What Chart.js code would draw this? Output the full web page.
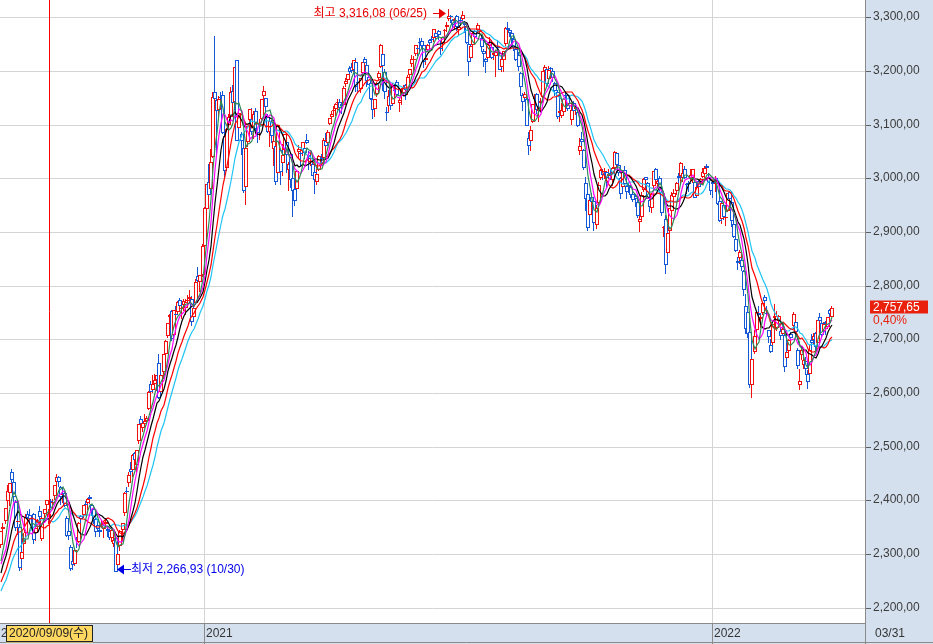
<!DOCTYPE html>
<html>
<head>
<meta charset="utf-8">
<script src="https://cdn.jsdelivr.net/npm/chart.js@4.4.1/dist/chart.umd.min.js"></script>
<style>
  html, body { margin: 0; padding: 0; background: #fff; }
  #wrap { width: 933px; height: 644px; position: relative; }
</style>
</head>
<body>
<div id="wrap"><canvas id="kospi"></canvas></div>
<script>
// closes before the first visible day (2020-07-09 .. 2020-08-05), only used for the averages
const earlierCloses = [2167.9, 2150.25, 2186.06, 2183.61, 2201.19, 2183.76, 2201.19, 2198.2, 2228.66, 2228.08,
  2216.18, 2200.44, 2217.86, 2256.99, 2263.17, 2267.01, 2249.37, 2251.04, 2279.97, 2311.86];

// daily [open, high, low, close], 2020-08-06 .. 2020-12-30
const ohlc2020 = [
  // Aug
  [2317,2343,2312,2342],[2346,2358,2333,2351],[2361,2386,2356,2386],[2398,2429,2380,2418],[2413,2433,2389,2432],
  [2453,2458,2424,2437],[2435,2446,2397,2407],[2397,2400,2343,2348],[2359,2375,2336,2360],[2351,2356,2268,2274],
  [2290,2314,2271,2304],[2318,2339,2302,2329],[2339,2375,2331,2369],[2375,2380,2352,2368],[2373,2383,2358,2366],
  [2356,2370,2347,2353],[2375,2376,2319,2326],
  // Sep
  [2339,2349,2325,2349],[2351,2366,2340,2364],[2380,2389,2361,2369],[2328,2371,2324,2368],[2374,2384,2363,2384],
  [2392,2401,2383,2401],[2366,2384,2356,2375],[2398,2403,2386,2396],[2395,2403,2382,2397],[2409,2429,2401,2428],
  [2435,2449,2428,2443],[2443,2445,2425,2435],[2424,2427,2391,2406],[2410,2419,2395,2412],[2414,2417,2387,2389],
  [2368,2371,2331,2333],[2342,2355,2326,2334],[2313,2317,2268,2272],[2287,2295,2270,2279],[2281,2308,2277,2308],
  [2329,2331,2312,2327],
  // Oct
  [2323,2359,2320,2358],[2370,2372,2354,2365],[2372,2392,2368,2391],[2393,2399,2380,2391],[2396,2405,2382,2403],
  [2406,2410,2393,2403],[2392,2394,2370,2380],[2383,2385,2356,2361],[2366,2367,2331,2341],[2355,2364,2341,2346],
  [2345,2355,2332,2341],[2355,2363,2350,2358],[2347,2358,2330,2355],[2356,2366,2350,2360],[2346,2352,2331,2343],
  [2343,2346,2327,2330],[2329,2348,2322,2345],[2318,2338,2313,2326],[2329,2334,2266.93,2267.15],
  // Nov
  [2280,2306,2273,2300],[2315,2345,2306,2343],[2345,2358,2325,2357],[2376,2416,2370,2414],[2418,2425,2405,2416],
  [2432,2452,2425,2447],[2458,2472,2444,2452],[2456,2486,2443,2485],[2488,2490,2468,2475],[2466,2494,2452,2493],
  [2510,2543,2505,2543],[2551,2557,2532,2543],[2534,2551,2527,2545],[2543,2560,2538,2547],[2548,2558,2545,2553],
  [2571,2603,2569,2602],[2617,2622,2588,2601],[2606,2633,2600,2617],[2617,2635,2609,2625],[2624,2634,2603,2633],
  [2655,2672,2588,2591],
  // Dec
  [2602,2637,2600,2634],[2640,2673,2626,2672],[2673,2699,2671,2696],[2707,2731,2703,2731],[2742,2747,2729,2745],
  [2752,2754,2697,2700],[2708,2755,2702,2755],[2747,2762,2731,2746],[2751,2771,2746,2770],[2773,2777,2756,2762],
  [2756,2763,2737,2757],[2764,2776,2753,2771],[2758,2775,2746,2770],[2772,2783,2765,2773],[2776,2791,2766,2778],
  [2775,2780,2724,2733],[2742,2763,2735,2759],[2767,2812,2765,2806],[2818,2834,2794,2808],[2806,2820,2788,2820],
  [2820,2878,2816,2873]
];

// 2021-01-04 .. 2021-12-30
const ohlc2021 = [
  // Jan
  [2874,2946,2869,2944],[2943,2990,2921,2990],[2993,3027,2961,2968],[2980,3055,2978,3031],[3040,3161,3038,3152],
  [3161,3266,3096,3148],[3146,3150,3043,3125],[3128,3153,3115,3148],[3150,3160,3130,3149],[3156,3162,3083,3085],
  [3079,3087,3002,3013],[3019,3093,3016,3092],[3100,3120,3073,3114],[3115,3170,3103,3160],[3163,3174,3125,3140],
  [3142,3208,3128,3208],[3220,3221,3069,3070],[3093,3133,3083,3122],[3083,3087,3044,3069],[3057,3080,2972,2976],
  // Feb
  [2984,3063,2950,3056],[3068,3098,3059,3097],[3109,3130,3097,3129],[3111,3131,3080,3087],[3094,3125,3073,3120],
  [3126,3131,3088,3092],[3103,3113,3066,3084],[3098,3110,3072,3100],[3110,3148,3103,3147],[3153,3172,3142,3163],
  [3149,3150,3122,3133],[3114,3119,3084,3086],[3087,3112,3058,3107],[3105,3109,3066,3079],[3054,3080,3023,3070],
  [3061,3075,2988,2994],[3009,3099,3005,3099],[3053,3055,2988,3012],
  // Mar
  [3029,3063,3005,3043],[3052,3083,3044,3082],[3068,3070,3009,3043],[3015,3031,2977,3026],[3046,3048,2982,2996],
  [3001,3009,2928,2976],[2980,2984,2948,2958],[2980,3013,2973,3013],[3049,3062,3036,3054],[3048,3053,3022,3045],
  [3050,3067,3041,3067],[3057,3064,3036,3047],[3072,3082,3063,3066],[3044,3050,3016,3039],[3036,3049,3023,3036],
  [3027,3040,3004,3005],[3011,3018,2970,2996],[2994,3018,2987,3008],[3015,3043,3014,3041],[3040,3046,3027,3036],
  [3038,3075,3035,3071],[3070,3084,3056,3061],
  // Apr
  [3065,3090,3062,3087],[3102,3112,3099,3112],[3115,3125,3105,3120],[3126,3134,3119,3127],[3129,3140,3117,3138],
  [3141,3148,3128,3143],[3142,3147,3122,3131],[3139,3143,3120,3135],[3136,3172,3134,3169],[3176,3187,3170,3182],
  [3183,3194,3180,3194],[3206,3210,3192,3198],[3207,3215,3196,3199],[3202,3221,3198,3221],[3217,3225,3161,3171],
  [3178,3180,3160,3177],[3167,3187,3159,3186],[3197,3217,3183,3217],[3223,3226,3200,3215],[3211,3218,3171,3181],
  [3189,3200,3173,3174],[3178,3184,3145,3147],
  // May
  [3147,3151,3110,3127],[3130,3148,3115,3147],[3158,3180,3151,3178],[3186,3199,3184,3197],[3207,3250,3205,3249],
  [3231,3232,3163,3209],[3198,3203,3148,3161],[3123,3133,3107,3122],[3135,3165,3123,3153],[3169,3173,3128,3134],
  [3139,3177,3138,3173],[3163,3172,3141,3162],[3179,3184,3153,3156],[3140,3150,3124,3145],[3154,3168,3137,3162],
  [3159,3173,3155,3171],[3173,3175,3145,3165],[3167,3193,3155,3188],[3193,3204,3184,3204],
  // Jun
  [3213,3229,3208,3222],[3220,3228,3200,3223],[3232,3249,3227,3248],[3243,3248,3227,3241],[3253,3262,3232,3252],
  [3256,3262,3241,3247],[3249,3254,3206,3216],[3220,3235,3211,3224],[3239,3251,3236,3249],[3258,3259,3241,3252],
  [3259,3266,3255,3258],[3261,3278,3254,3278],[3270,3277,3257,3264],[3275,3277,3257,3267],[3243,3255,3230,3240],
  [3252,3264,3237,3264],[3274,3278,3261,3276],[3282,3291,3273,3286],[3296,3316.08,3294,3302],[3302,3304,3290,3301],
  [3295,3296,3280,3286],[3294,3298,3279,3297],
  // Jul
  [3303,3305,3275,3282],[3277,3287,3265,3281],[3294,3301,3283,3293],[3297,3312,3294,3305],[3290,3293,3270,3285],
  [3283,3285,3250,3253],[3250,3252,3190,3217],[3225,3247,3222,3246],[3249,3272,3240,3271],[3274,3276,3260,3264],
  [3276,3289,3270,3286],[3272,3280,3268,3276],[3262,3265,3235,3244],[3238,3240,3208,3232],[3223,3224,3196,3216],
  [3224,3250,3221,3250],[3246,3263,3239,3254],[3244,3257,3223,3224],[3230,3242,3220,3233],[3228,3239,3188,3236],
  [3245,3257,3237,3242],[3233,3236,3202,3202],
  // Aug
  [3207,3227,3198,3223],[3221,3237,3198,3237],[3250,3281,3247,3280],[3280,3291,3266,3276],[3276,3280,3264,3270],
  [3271,3272,3247,3260],[3260,3263,3237,3243],[3240,3243,3218,3221],[3229,3235,3199,3208],[3197,3198,3154,3171],
  [3155,3159,3126,3143],[3150,3161,3142,3158],[3148,3151,3097,3097],[3075,3087,3043,3060],[3070,3097,3051,3090],
  [3104,3138,3103,3138],[3147,3158,3134,3148],[3157,3159,3120,3128],[3125,3134,3104,3133],[3141,3150,3128,3144],
  [3152,3199,3143,3199],
  // Sep
  [3199,3211,3186,3207],[3204,3207,3172,3175],[3185,3209,3182,3201],[3206,3208,3185,3203],[3200,3203,3179,3187],
  [3177,3179,3154,3162],[3160,3165,3111,3114],[3121,3137,3104,3125],[3116,3141,3112,3127],[3123,3150,3121,3148],
  [3156,3159,3143,3153],[3155,3157,3125,3130],[3135,3145,3130,3140],[3108,3140,3100,3127],[3140,3144,3120,3125],
  [3129,3135,3118,3133],[3123,3129,3095,3097],[3050,3076,3044,3060],[3073,3086,3060,3068],
  // Oct
  [3053,3054,3016,3019],[2992,3003,2940,2962],[2971,2986,2901,2908],[2932,2962,2927,2959],[2966,2973,2953,2956],
  [2957,2961,2901,2916],[2913,2950,2905,2944],[2954,2993,2952,2988],[3000,3018,2996,3015],[3013,3017,2997,3006],
  [3011,3019,2998,3013],[3011,3013,2982,3000],[3004,3018,2998,3008],[3010,3018,2997,3006],[2996,3021,2986,3020],
  [3020,3051,3016,3049],[3048,3049,3021,3025],[3024,3027,3004,3009],[3001,3003,2961,2970],
  // Nov
  [2984,3013,2980,3013],[3016,3022,2986,2989],[2986,2988,2961,2975],[2987,2992,2972,2983],[2983,2987,2963,2969],
  [2970,2978,2955,2960],[2967,2968,2947,2962],[2955,2964,2926,2930],[2918,2931,2900,2924],[2928,2974,2925,2968],
  [2978,3000,2975,2999],[3002,3003,2984,2997],[2992,2993,2961,2962],[2960,2963,2938,2947],[2944,2973,2936,2971],
  [2985,3014,2979,3013],[3017,3020,2985,2997],[2990,3003,2983,2995],[3000,3005,2973,2980],[2975,2978,2930,2936],
  [2907,2912,2890,2909],[2925,2931,2821,2839],
  // Dec
  [2860,2904,2839,2899],[2902,2945,2890,2945],[2940,2974,2935,2968],[2966,2981,2960,2973],[2976,2994,2968,2991],
  [3004,3009,2989,3001],[3005,3030,2990,3029],[3000,3012,2993,3010],[3017,3023,2999,3001],[2990,2991,2970,2987],
  [2992,2995,2975,2989],[2999,3018,2995,3006],[3001,3017,2992,3017],[2993,2994,2963,2963],[2967,2987,2965,2984],
  [2995,2998,2983,2984],[2990,3000,2984,2998],[3002,3020,3000,3012],[3008,3022,3001,3020],[3023,3027,3010,3020],
  [3003,3010,2991,2993],[2996,3002,2968,2977]
];

// 2022-01-03 .. 2022-03-31
const ohlc2022 = [
  // Jan
  [2993,2995,2963,2989],[2989,3005,2974,2990],[2991,3001,2950,2953],[2957,2963,2919,2920],[2925,2955,2915,2954],
  [2951,2955,2923,2927],[2926,2934,2911,2928],[2939,2973,2938,2972],[2974,2976,2955,2962],[2956,2962,2910,2921],
  [2915,2920,2889,2890],[2886,2897,2862,2864],[2846,2853,2830,2842],[2852,2867,2840,2862],[2847,2856,2828,2834],
  [2828,2830,2780,2792],[2762,2785,2710,2720],[2750,2752,2703,2709],[2713,2716,2610,2614],[2614,2677,2591.53,2663],
  // Feb
  [2677,2717,2672,2707],[2717,2752,2705,2750],[2749,2762,2735,2745],[2737,2745,2721,2741],[2749,2768,2745,2768],
  [2779,2782,2759,2771],[2748,2763,2741,2747],[2717,2718,2694,2704],[2690,2700,2675,2676],[2693,2729,2690,2729],
  [2740,2766,2727,2744],[2721,2753,2716,2744],[2734,2746,2731,2743],[2716,2722,2698,2706],[2710,2728,2708,2719],
  [2708,2710,2639,2648],[2665,2688,2658,2676],[2678,2700,2676,2699],
  // Mar
  [2710,2713,2686,2703],[2725,2750,2720,2747],[2733,2741,2706,2713],[2680,2683,2645,2651],[2615,2645,2605,2622],
  [2670,2685,2661,2680],[2652,2668,2645,2661],[2660,2667,2633,2645],[2636,2642,2608,2621],[2636,2689,2635,2680],
  [2699,2709,2681,2694],[2699,2711,2691,2707],[2711,2713,2674,2686],[2694,2736,2690,2736],[2742,2749,2732,2735],
  [2731,2734,2705,2708],[2716,2733,2710,2729],[2732,2734,2708,2729],[2723,2742,2720,2741],[2755,2757,2740,2746.74],
  [2742,2763,2741,2757.65]
];

const maPeriods = [5, 7, 10, 15, 20];
const maColors = ['#2e8b57', '#ff00ff', '#000000', '#ff0000', '#1ec4f4'];
const yTicks = [2200, 2300, 2400, 2500, 2600, 2700, 2800, 2900, 3000, 3100, 3200, 3300];
const yearStarts = [{ idx: 99, label: '2021' }, { idx: 347, label: '2022' }];
const firstLabel = '2020';
const crossIdx = 23;
const crossLabel = '2020/09/09(수)';
const highDate = '06/25';
const lowDate = '10/30';
const lastDate = '03/31';

const candles = ohlc2020.concat(ohlc2021, ohlc2022);
const closes = candles.map(d => d[3]);

const upColor = '#f01010';
const downColor = '#1458d6';
const FONT = "'Liberation Sans', 'Noto Sans CJK KR', Arial, sans-serif";

function movingAverage(period) {
  const all = earlierCloses.concat(closes);
  const off = earlierCloses.length;
  return closes.map((c, i) => {
    const end = off + i;
    let s = 0;
    for (let k = end - period + 1; k <= end; k++) s += all[k];
    return { x: i, y: s / period };
  });
}

function fmtKr(v) {
  const parts = v.toFixed(2).split('.');
  return parts[0].replace(/\B(?=(\d{3})+(?!\d))/g, ',') + ',' + parts[1];
}

let hiIdx = 0, loIdx = 0;
candles.forEach((d, i) => {
  if (d[1] > candles[hiIdx][1]) hiIdx = i;
  if (d[2] < candles[loIdx][2]) loIdx = i;
});

const wickData = candles.map((d, i) => ({ x: i, y: [d[2], d[1]] }));
const bodyData = candles.map((d, i) => ({ x: i, y: [Math.min(d[0], d[3]), Math.max(d[0], d[3])] }));
const candleColors = candles.map(d => d[3] >= d[0] ? upColor : downColor);

const datasets = maPeriods.map((p, k) => ({
  type: 'line',
  label: 'MA' + p,
  data: movingAverage(p),
  borderColor: maColors[k],
  borderWidth: 1.2,
  pointRadius: 0,
  tension: 0,
  order: k
}));
// hollow candle bodies
datasets.push({
  type: 'bar',
  label: 'body',
  data: bodyData,
  backgroundColor: '#ffffff',
  borderColor: candleColors,
  borderWidth: 1,
  borderSkipped: false,
  barThickness: 4,
  minBarLength: 1,
  grouped: false,
  inflateAmount: 0,
  order: 10
});
// wicks: a 2px bar showing only its 1px left border, so the line stays sharp
datasets.push({
  type: 'bar',
  label: 'wick',
  data: wickData,
  backgroundColor: 'rgba(0,0,0,0)',
  borderColor: candleColors,
  borderWidth: { left: 1, right: 0, top: 0, bottom: 0 },
  borderSkipped: false,
  barThickness: 2,
  grouped: false,
  inflateAmount: 0,
  order: 11
});

function drawArrow(ctx, x1, tip, y, color) {
  const dir = Math.sign(tip - x1);
  ctx.strokeStyle = color;
  ctx.fillStyle = color;
  ctx.lineWidth = 1;
  ctx.beginPath();
  ctx.moveTo(x1, y + 0.5);
  ctx.lineTo(tip - dir * 5, y + 0.5);
  ctx.stroke();
  ctx.beginPath();
  ctx.moveTo(tip, y + 0.5);
  ctx.lineTo(tip - dir * 7, y - 4.5);
  ctx.lineTo(tip - dir * 7, y + 5.5);
  ctx.closePath();
  ctx.fill();
}

const decor = {
  id: 'decor',
  beforeDraw(chart) {
    const { ctx, chartArea: a, width, height } = chart;
    ctx.save();
    ctx.fillStyle = '#ffffff';
    ctx.fillRect(0, 0, width, height);
    ctx.fillStyle = '#d5e0ee';
    ctx.fillRect(a.right, 0, width - a.right, height);
    ctx.fillRect(0, a.bottom, width, height - a.bottom);
    ctx.restore();
  },
  afterDatasetsDraw(chart) {
    const { ctx, chartArea: a } = chart;
    const xs = chart.scales.x, ys = chart.scales.y;
    ctx.save();
    // crosshair
    const cx = Math.round(xs.getPixelForValue(crossIdx)) + 0.5;
    ctx.strokeStyle = '#ff0000';
    ctx.lineWidth = 1;
    ctx.beginPath();
    ctx.moveTo(cx, a.top);
    ctx.lineTo(cx, a.bottom);
    ctx.stroke();

    ctx.font = '12px ' + FONT;
    ctx.textBaseline = 'middle';
    // highest
    const hi = candles[hiIdx][1];
    const hTip = xs.getPixelForValue(hiIdx) - 3;
    const hy = Math.round(ys.getPixelForValue(hi) + 3.5);
    drawArrow(ctx, hTip - 13, hTip, hy, '#e80000');
    ctx.fillStyle = '#e80000';
    ctx.textAlign = 'right';
    ctx.fillText('최고 ' + fmtKr(hi) + ' (' + highDate + ')', hTip - 19, hy + 1);
    // lowest
    const lo = candles[loIdx][2];
    const lTip = xs.getPixelForValue(loIdx) + 1;
    const ly = Math.round(ys.getPixelForValue(lo) - 3.5);
    drawArrow(ctx, lTip + 14, lTip, ly, '#0000e8');
    ctx.fillStyle = '#0000e8';
    ctx.textAlign = 'left';
    ctx.fillText('최저 ' + fmtKr(lo) + ' (' + lowDate + ')', lTip + 14, ly + 1);
    ctx.restore();
  },
  afterDraw(chart) {
    const { ctx, chartArea: a, width, height } = chart;
    const xs = chart.scales.x, ys = chart.scales.y;
    ctx.save();
    ctx.font = '12px ' + FONT;
    ctx.textBaseline = 'middle';
    const midY = (a.bottom + height) / 2 + 0.5;

    // bottom strip labels
    ctx.fillStyle = '#333';
    ctx.textAlign = 'left';
    ctx.fillText(firstLabel, 1, midY);
    yearStarts.forEach(ys2 => {
      const gx = xs.getPixelForValue(ys2.idx - 0.5);
      ctx.fillText(ys2.label, gx + 2, midY);
    });
    ctx.fillText(lastDate, a.right + 10, midY);

    // strip borders
    ctx.strokeStyle = '#8a8a8a';
    ctx.lineWidth = 1;
    ctx.beginPath();
    ctx.moveTo(a.right + 0.5, a.bottom);
    ctx.lineTo(a.right + 0.5, height);
    ctx.moveTo(0, height - 1.5);
    ctx.lineTo(width, height - 1.5);
    ctx.stroke();

    // crosshair date box
    ctx.fillStyle = '#ffd862';
    ctx.fillRect(6, a.bottom + 2.5, 87, 17);
    ctx.strokeStyle = '#222';
    ctx.strokeRect(6.5, a.bottom + 2.5, 86, 16);
    ctx.fillStyle = '#222';
    ctx.fillText(crossLabel, 9, midY);

    // last price box
    const last = closes[closes.length - 1];
    const prev = closes[closes.length - 2];
    const pct = (last / prev - 1) * 100;
    const py = Math.round(ys.getPixelForValue(last)) - 1;
    ctx.fillStyle = '#e8200c';
    ctx.fillRect(a.right + 5, py - 6.5, 58, 13);
    ctx.fillStyle = '#ffffff';
    ctx.fillText(fmtKr(last), a.right + 8, py + 0.5);
    ctx.fillStyle = '#e8200c';
    ctx.fillText(pct.toFixed(2).replace('.', ',') + '%', a.right + 8, py + 13.5);
    ctx.restore();
  }
};

new Chart(document.getElementById('kospi'), {
  type: 'bar',
  data: { datasets: datasets },
  options: {
    responsive: true,
    maintainAspectRatio: false,
    animation: false,
    events: [],
    layout: { padding: 0 },
    plugins: { legend: { display: false }, tooltip: { enabled: false } },
    scales: {
      x: {
        type: 'linear',
        min: -0.7,
        max: 420.84,
        offset: false,
        alignToPixels: true,
        afterBuildTicks: ax => { ax.ticks = yearStarts.map(y => ({ value: y.idx - 0.5 })); },
        afterFit: ax => { ax.height = 21; ax.paddingLeft = 0; ax.paddingRight = 0; },
        grid: { offset: false, color: '#d4d4d4', tickLength: 21, tickColor: '#8a8a8a' },
        border: { color: '#8a8a8a' },
        ticks: { display: false }
      },
      y: {
        position: 'right',
        min: 2171.5,
        max: 3332.2,
        alignToPixels: true,
        afterBuildTicks: ax => { ax.ticks = yTicks.map(v => ({ value: v })); },
        afterFit: ax => { ax.width = 68; ax.paddingTop = 0; ax.paddingBottom = 0; },
        grid: { color: '#d4d4d4', tickLength: 6, tickColor: '#606060' },
        border: { color: '#8a8a8a' },
        ticks: {
          color: '#3c3c3c',
          padding: 2,
          font: { family: FONT, size: 12 },
          callback: v => fmtKr(v)
        }
      }
    }
  },
  plugins: [decor]
});
</script>
</body>
</html>
